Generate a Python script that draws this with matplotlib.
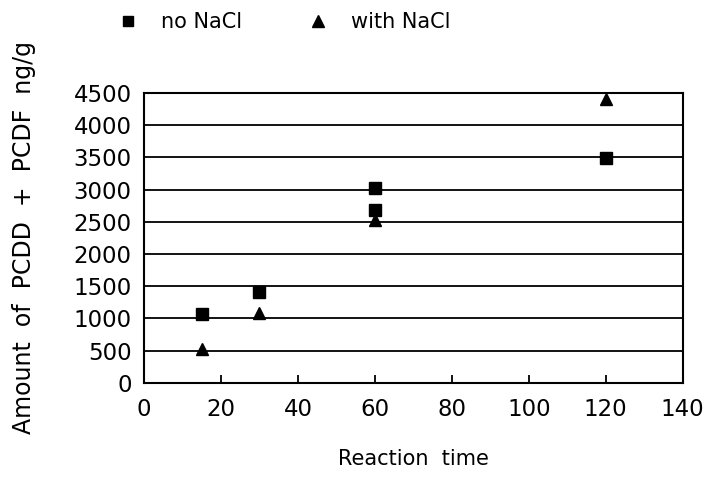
import matplotlib
matplotlib.use("Agg")
import matplotlib.pyplot as plt
from matplotlib.lines import Line2D

# Reaction time vs PCDD + PCDF amount (ng/g)
time_no_nacl = [15, 30, 60, 60, 120]
amount_no_nacl = [1070, 1410, 3030, 2690, 3490]

time_with_nacl = [15, 30, 60, 120]
amount_with_nacl = [520, 1080, 2520, 4400]

y_ticks = list(range(0, 5000, 500))
x_ticks = list(range(0, 160, 20))

plt.rcParams.update({
    "font.family": ["DejaVu Sans"],
    "font.size": 15,
})

fig = plt.figure(figsize=(7.06, 4.86), dpi=100)
ax = fig.add_axes([0.204, 0.212, 0.763, 0.597])

ax.plot(time_no_nacl, amount_no_nacl, "s", color="black", markersize=8, zorder=3)
ax.plot(time_with_nacl, amount_with_nacl, "^", color="black", markersize=8.5, zorder=3)

ax.set_xlim(0, 140)
ax.set_ylim(0, 4500)
ax.set_xticks(x_ticks)
ax.set_yticks(y_ticks)
ax.yaxis.grid(True, color="black", linewidth=1.3)
ax.set_axisbelow(True)

for s in ax.spines.values():
    s.set_linewidth(1.5)
    s.set_color("black")

ax.tick_params(axis="x", direction="in", length=6, width=1.3, pad=11, labelsize=16.5)
ax.tick_params(axis="y", length=0, pad=9, labelsize=16.5)

ax.set_xlabel("Reaction  time", fontsize=15, labelpad=20)
ax.set_ylabel("Amount  of  PCDD  +  PCDF  ng/g", fontsize=17)
ax.yaxis.set_label_coords(-0.2, 0.5)

handles = [
    Line2D([], [], marker="s", linestyle="none", color="black", markersize=7.5),
    Line2D([], [], marker="^", linestyle="none", color="black", markersize=8),
]
fig.legend(handles, ["no NaCl", "with NaCl"], loc="center", ncol=2,
           bbox_to_anchor=(0.395, 0.955), frameon=False, fontsize=15,
           handletextpad=0.6, columnspacing=2.6)

fig.savefig("out.png", dpi=100, facecolor="white")
